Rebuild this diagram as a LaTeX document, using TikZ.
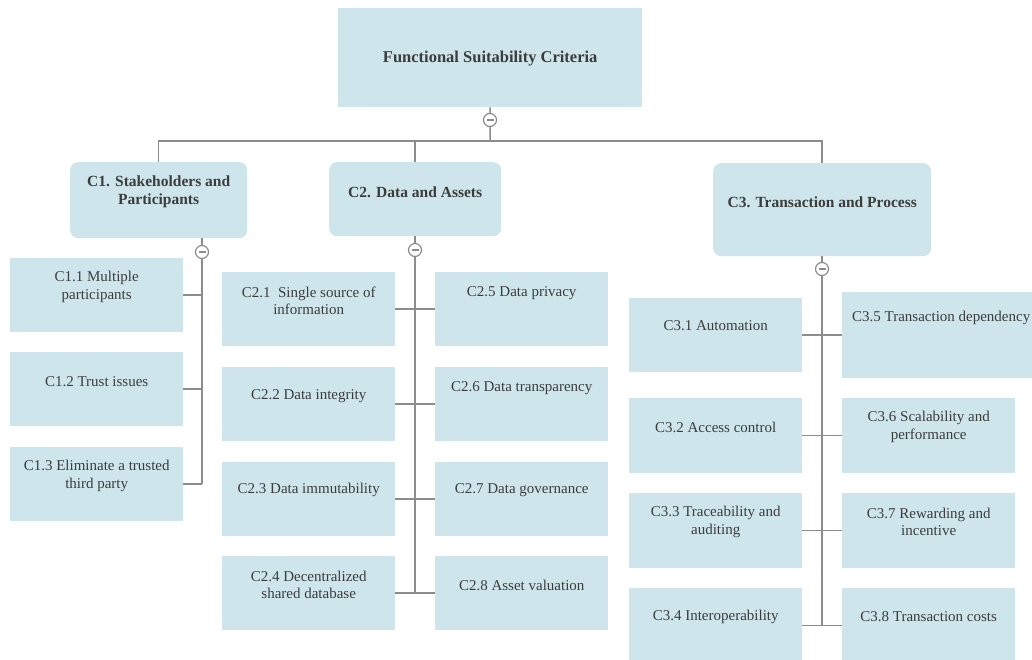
\documentclass[tikz,border=0pt]{standalone}
\usepackage{fontspec}
\setmainfont{Liberation Serif}
\usetikzlibrary{positioning}
\definecolor{boxblue}{RGB}{206,230,235}
\definecolor{linegray}{RGB}{140,140,140}
\definecolor{textgray}{RGB}{60,60,60}

\begin{document}
\begin{tikzpicture}[
                    x=1pt, y=-1pt,
                    crit/.style={fill=boxblue, inner sep=0pt, anchor=north west,
                        minimum width=173pt, minimum height=74pt},
                    head/.style={crit, rounded corners=8pt},
                    lbl/.style={text=textgray, align=center, inner sep=0pt,
                        font=\fontsize{15}{17.5}\selectfont},
                    hlbl/.style={lbl, font=\bfseries\fontsize{15.5}{18.5}\selectfont},
                    link/.style={draw=linegray, line width=1.5pt},
                    minus/.style={circle, draw=linegray, fill=white, line width=1.2pt,
                        minimum size=13pt, inner sep=0pt,
                        path picture={\draw[linegray, line width=1.2pt]
                            ([xshift=-3.5pt]path picture bounding box.center) --
                            ([xshift=3.5pt]path picture bounding box.center);}}
                ]
                \useasboundingbox (0, 0) rectangle (1032, 660);
                \clip (0, 0) rectangle (1032, 660);
                \fill[white] (0, 0) rectangle (1032, 660);

                % root and the three groups
                \node[crit, minimum width=304pt, minimum height=99pt] (root) at (338, 8) {};
                \node[hlbl, font=\bfseries\fontsize{16.5}{19}\selectfont] (roott) at ([yshift=-51pt]root.north) {Functional Suitability Criteria};
                \node[head, minimum width=177pt, minimum height=76pt] (c1) at (70, 162) {};
                \node[hlbl] (c1t) at ([yshift=-30pt]c1.north) {C1. Stakeholders and\\Participants};
                \node[head, minimum width=172pt, minimum height=74pt] (c2) at (329, 162) {};
                \node[hlbl] (c2t) at ([yshift=-30pt]c2.north) {C2. Data and Assets};
                \node[head, minimum width=218pt, minimum height=93pt] (c3) at (713, 163) {};
                \node[hlbl] (c3t) at ([yshift=-39pt]c3.north) {C3. Transaction and Process};

                % C1 children
                \node[crit] (c11) at (10, 258) {};
                \node[lbl] (c11t) at ([yshift=-29pt]c11.north) {C1.1 Multiple\\participants};
                \node[crit] (c12) at (10, 352) {};
                \node[lbl] (c12t) at ([yshift=-30pt]c12.north) {C1.2 Trust issues};
                \node[crit] (c13) at (10, 447) {};
                \node[lbl] (c13t) at ([yshift=-29pt]c13.north) {C1.3 Eliminate a trusted\\third party};

                % C2 children
                \node[crit] (c21) at (222, 272) {};
                \node[lbl] (c21t) at ([yshift=-29pt]c21.north) {C2.1\ \ Single source of\\information};
                \node[crit] (c22) at (222, 367) {};
                \node[lbl] (c22t) at ([yshift=-29pt]c22.north) {C2.2 Data integrity};
                \node[crit] (c23) at (222, 462) {};
                \node[lbl] (c23t) at ([yshift=-28pt]c23.north) {C2.3 Data immutability};
                \node[crit] (c24) at (222, 556) {};
                \node[lbl] (c24t) at ([yshift=-29pt]c24.north) {C2.4 Decentralized\\shared database};
                \node[crit] (c25) at (435, 272) {};
                \node[lbl] (c25t) at ([yshift=-21pt]c25.north) {C2.5 Data privacy};
                \node[crit] (c26) at (435, 367) {};
                \node[lbl] (c26t) at ([yshift=-21pt]c26.north) {C2.6 Data transparency};
                \node[crit] (c27) at (435, 462) {};
                \node[lbl] (c27t) at ([yshift=-28pt]c27.north) {C2.7 Data governance};
                \node[crit] (c28) at (435, 556) {};
                \node[lbl] (c28t) at ([yshift=-29pt]c28.north) {C2.8 Asset valuation};

                % C3 children
                \node[crit] (c31) at (629, 298) {};
                \node[lbl] (c31t) at ([yshift=-28pt]c31.north) {C3.1 Automation};
                \node[crit, minimum height=75pt] (c32) at (629, 398) {};
                \node[lbl] (c32t) at ([yshift=-29pt]c32.north) {C3.2 Access control};
                \node[crit, minimum height=75pt] (c33) at (629, 493) {};
                \node[lbl] (c33t) at ([yshift=-29pt]c33.north) {C3.3 Traceability and\\auditing};
                \node[crit, minimum height=75pt] (c34) at (629, 588) {};
                \node[lbl] (c34t) at ([yshift=-29pt]c34.north) {C3.4 Interoperability};
                \node[crit, minimum width=198pt, minimum height=86pt] (c35) at (842, 292) {};
                \node[lbl] (c35t) at ([yshift=-26pt]c35.north) {C3.5 Transaction dependency};
                \node[crit, minimum height=75pt] (c36) at (842, 398) {};
                \node[lbl] (c36t) at ([yshift=-29pt]c36.north) {C3.6 Scalability and\\performance};
                \node[crit, minimum height=75pt] (c37) at (842, 493) {};
                \node[lbl] (c37t) at ([yshift=-29pt]c37.north) {C3.7 Rewarding and\\incentive};
                \node[crit, minimum height=75pt] (c38) at (842, 588) {};
                \node[lbl] (c38t) at ([yshift=-29pt]c38.north) {C3.8 Transaction costs};

                % connectors
                \coordinate (rootj) at (490, 141);
                \draw[link] (root.south) -- (rootj);
                \draw[link] (c1.north) -- (c1.north |- rootj) -- (c3.north |- rootj) -- (c3.north);
                \draw[link] (c2.north) -- (c2.north |- rootj);

                \coordinate (c1j) at (202, 252);
                \draw[link] (c1j |- c1.south) -- (c1j |- c13.east);
                \draw[link] (c11.east) -- (c11.east -| c1j);
                \draw[link] (c12.east) -- (c12.east -| c1j);
                \draw[link] (c13.east) -- (c13.east -| c1j);

                \draw[link] (c2.south) -- (c2.south |- c24.east);
                \draw[link] (c21.east) -- (c25.west);
                \draw[link] (c22.east) -- (c26.west);
                \draw[link] (c23.east) -- (c27.west);
                \draw[link] (c24.east) -- (c28.west);

                \draw[link] (c3.south) -- (c3.south |- c34.east);
                \draw[link] (c31.east) -- (c35.west);
                \draw[link] (c32.east) -- (c36.west);
                \draw[link] (c33.east) -- (c37.west);
                \draw[link] (c34.east) -- (c38.west);

                % collapse marks
                \node[minus] (rootm) at (490, 120) {};
                \node[minus] (c1m) at (c1j) {};
                \node[minus] (c2m) at (415, 250) {};
                \node[minus] (c3m) at (822, 269) {};
            \end{tikzpicture}
\end{document}
